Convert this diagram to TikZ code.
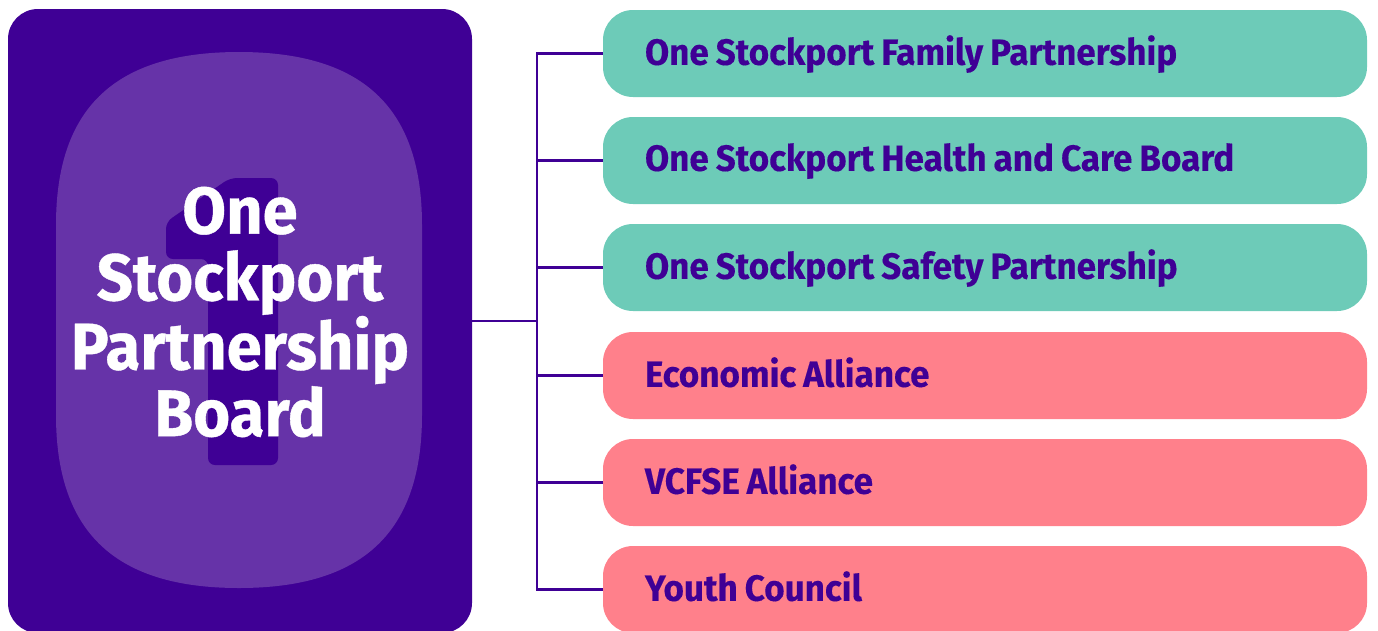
\documentclass[tikz,border=0pt]{standalone}
\usepackage{fontspec}
\setmainfont{Fira Sans}[BoldFont={Fira Sans Bold}]
\definecolor{purp}{HTML}{3F0095}
\definecolor{blob}{HTML}{6633A8}
\definecolor{teal}{HTML}{6DCBB8}
\definecolor{pink}{HTML}{FF808B}
\newfontfamily\narrowbold{Fira Sans Bold}[FakeStretch=0.96,FakeBold=0.3]
\newfontfamily\titlebold{Fira Sans Bold}[FakeStretch=0.96,FakeBold=0.6]
\tikzset{
 item/.style={rounded corners=30pt,minimum width=764pt,minimum height=87pt,anchor=north west,inner sep=0pt,text=purp,font=\narrowbold\fontsize{36.5}{40}\selectfont,execute at begin node={\spaceskip=7pt\relax},align=left,text width=680pt,outer sep=0pt,text depth=7pt},
 tealbox/.style={item,fill=teal},
 pinkbox/.style={item,fill=pink},
 link/.style={draw=purp,line width=2.2pt},
}
\begin{document}
\begin{tikzpicture}[x=1pt,y=-1pt]
\useasboundingbox (0,0) rectangle (1378,630);
\clip (0,0) rectangle (1378,630);
\node[fill=purp,rounded corners=30pt,minimum width=464pt,minimum height=624pt,inner sep=0pt,outer sep=0pt,anchor=north west] (main) at (8,9) {};
\fill[blob] (239,52) .. controls (360,52) and (422,105) .. (422,225)
 -- (422,415) .. controls (422,535) and (360,588) .. (239,588)
 .. controls (118,588) and (56,535) .. (56,415)
 -- (56,225) .. controls (56,105) and (118,52) .. (239,52) -- cycle;
\fill[purp,rounded corners=7pt] (166,222) -- (230,178) -- (278,178) -- (278,465) -- (208,465) -- (208,259) -- (166,259) -- cycle;
\node[text=white,font=\titlebold\fontsize{66}{66.7}\selectfont,align=center,inner sep=0pt] (title) at (240,312) {One\\Stockport\\Partnership\\Board};
\node[tealbox] (a) at (603,10) {One Stockport Family Partnership};
\node[tealbox] (b) at (603,117) {One Stockport Health and Care Board};
\node[tealbox] (c) at (603,224) {One Stockport Safety Partnership};
\node[pinkbox] (d) at (603,332) {Economic Alliance};
\node[pinkbox] (e) at (603,439) {VCFSE Alliance};
\node[pinkbox] (f) at (603,546) {Youth Council};
\coordinate (spine) at (537,0);
\draw[link] (main.east) -- (main.east -| spine);
\draw[link,line cap=rect] (a.west -| spine) -- (f.west -| spine);
\draw[link] (a.west) -- (a.west -| spine);
\draw[link] (b.west) -- (b.west -| spine);
\draw[link] (c.west) -- (c.west -| spine);
\draw[link] (d.west) -- (d.west -| spine);
\draw[link] (e.west) -- (e.west -| spine);
\draw[link] (f.west) -- (f.west -| spine);
\end{tikzpicture}
\end{document}
